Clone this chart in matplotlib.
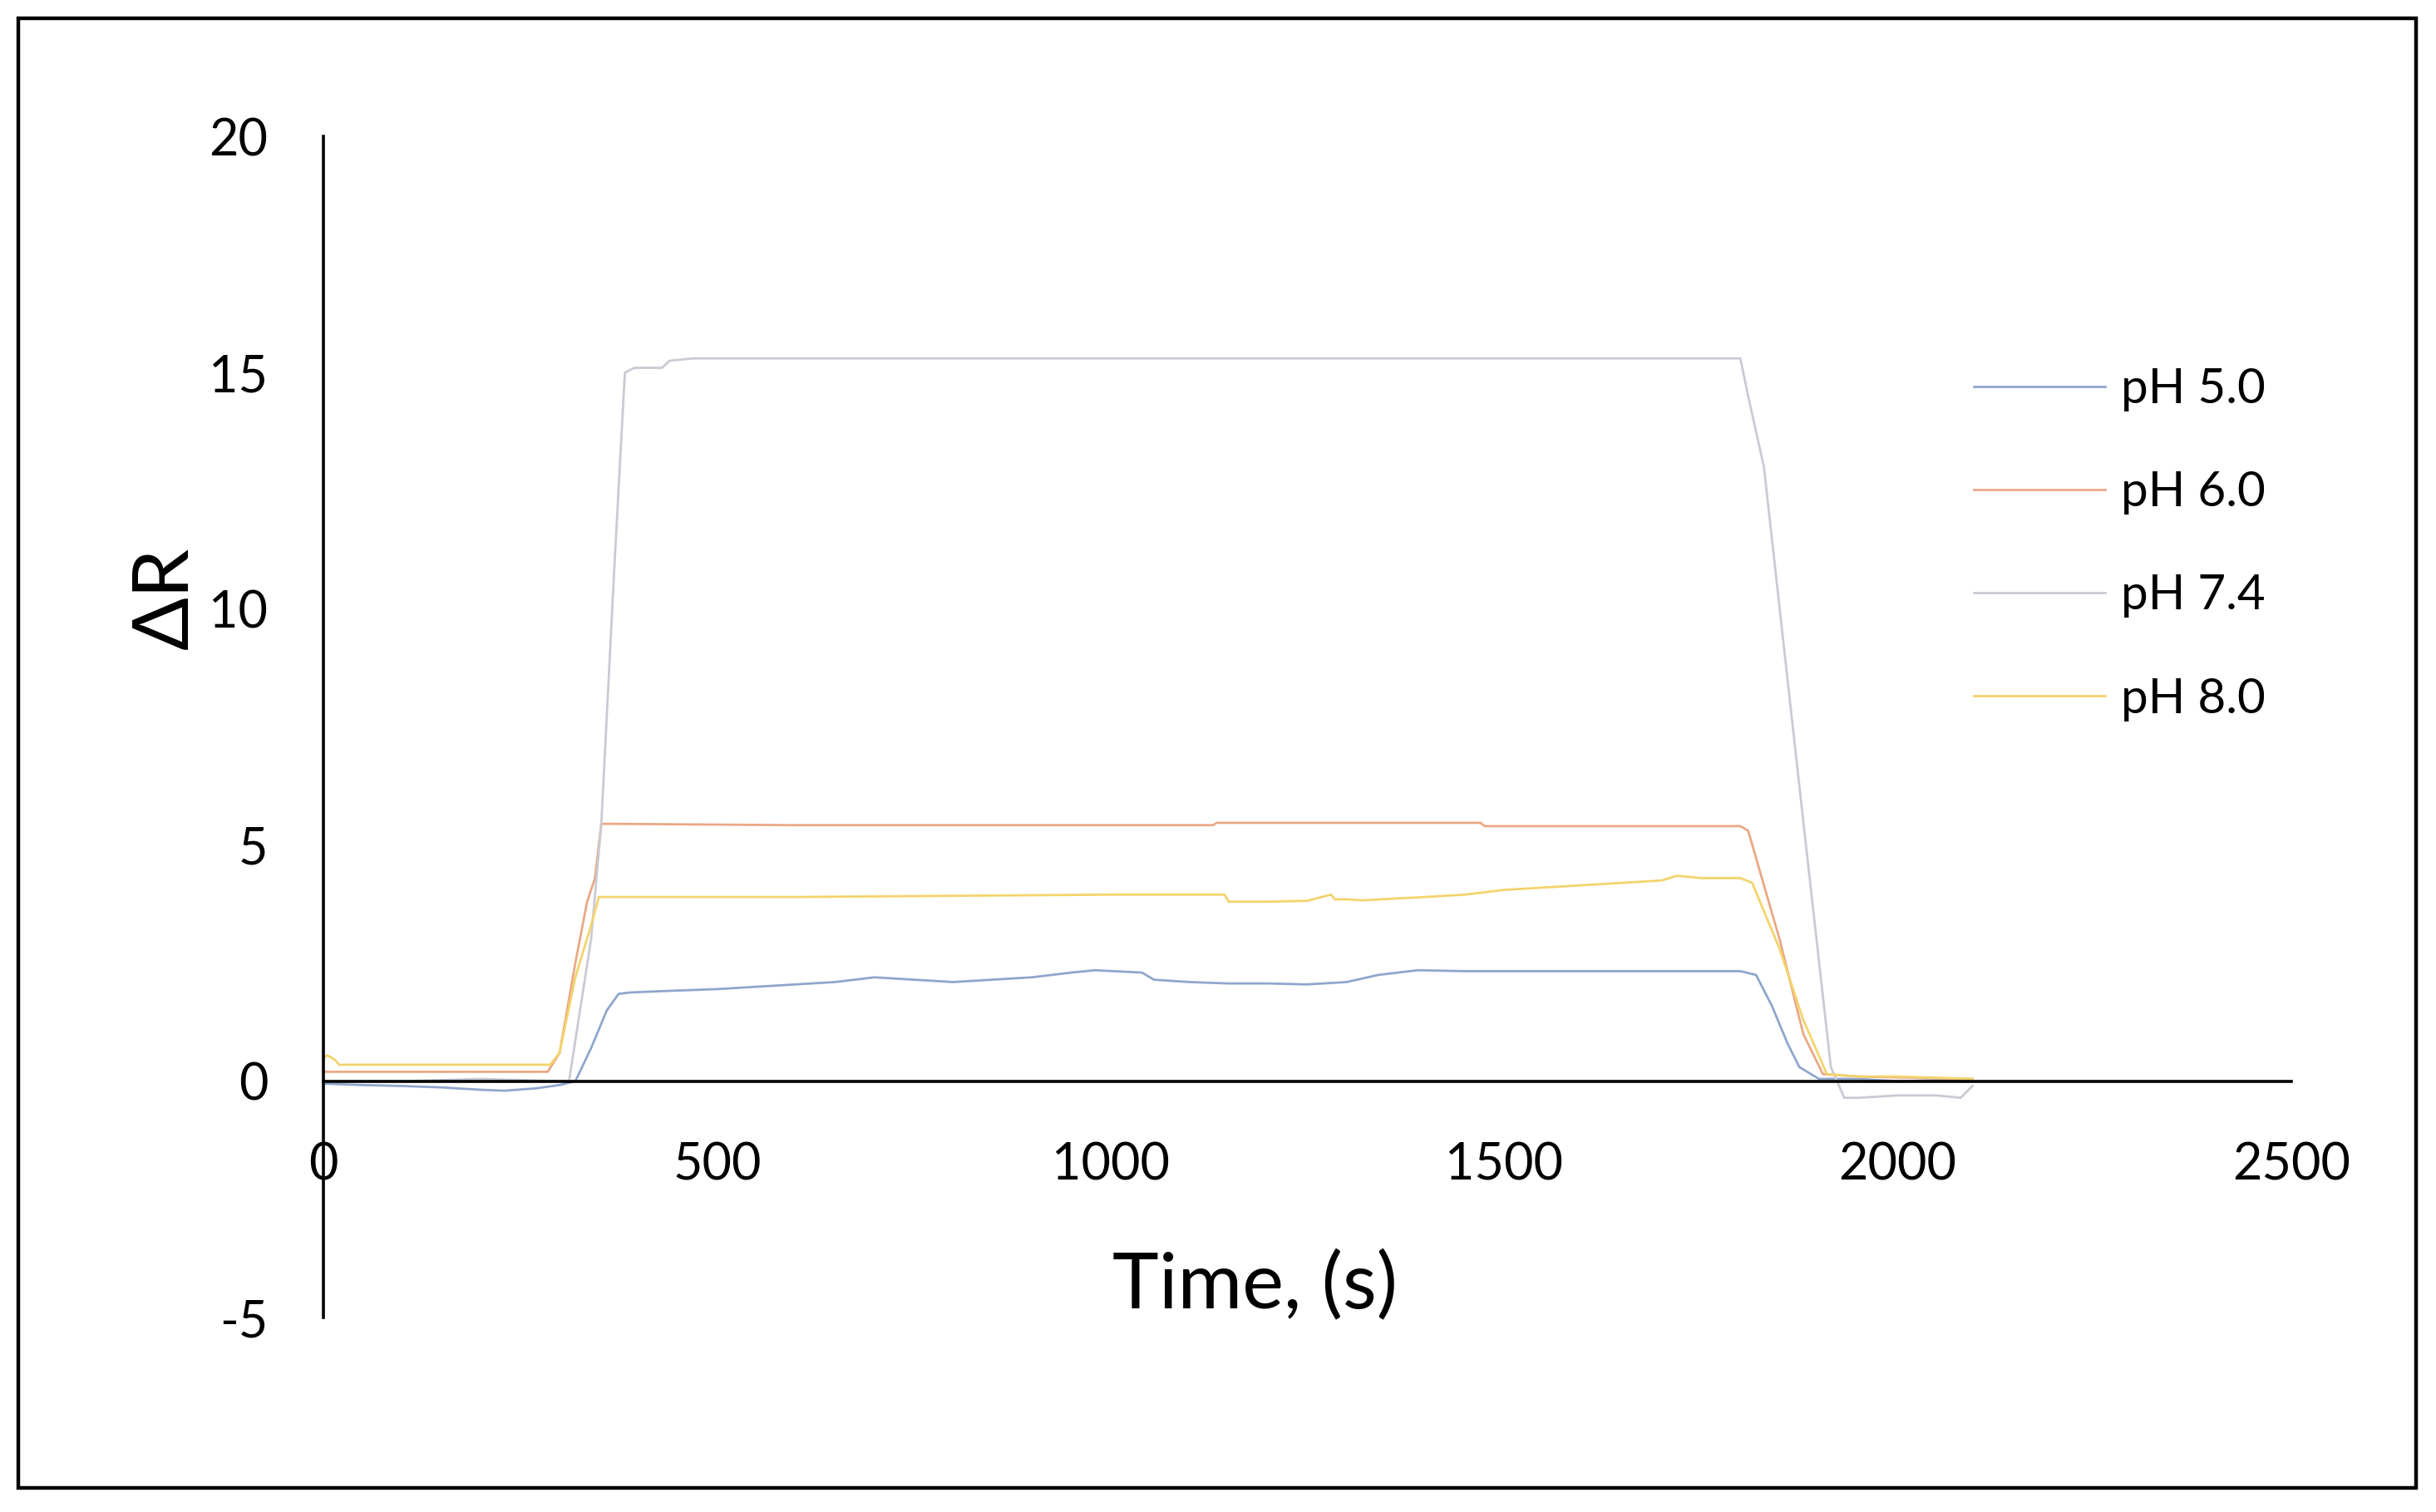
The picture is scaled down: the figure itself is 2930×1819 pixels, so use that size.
import numpy as np
import matplotlib
matplotlib.use('Agg')
import matplotlib.pyplot as plt
from matplotlib.patches import Rectangle

plt.rcParams['font.family'] = ['Lato', 'DejaVu Sans']
plt.rcParams['axes.unicode_minus'] = False

########################################################
# series (time in s, delta R)
labels = ['pH 5.0', 'pH 6.0', 'pH 7.4', 'pH 8.0']

t_ph50 = [0, 50, 100, 150, 200, 230, 270, 300, 320, 340, 360, 375, 390, 450, 500, 550,
          600, 650, 700, 750, 800, 850, 900, 950, 980, 1040, 1055, 1100, 1150, 1200,
          1250, 1300, 1340, 1390, 1450, 1600, 1800, 1820, 1840, 1860, 1875, 1900, 1950,
          2000, 2050, 2095]
r_ph50 = [-0.05, -0.08, -0.1, -0.13, -0.18, -0.2, -0.15, -0.08, 0.0, 0.7, 1.5, 1.85,
          1.88, 1.92, 1.95, 2.0, 2.05, 2.1, 2.2, 2.15, 2.1, 2.15, 2.2, 2.3, 2.35, 2.3,
          2.15, 2.1, 2.07, 2.07, 2.05, 2.1, 2.25, 2.35, 2.33, 2.33, 2.33, 2.25, 1.6,
          0.8, 0.3, 0.05, 0.05, 0.0, 0.02, 0.0]

t_ph60 = [0, 10, 285, 300, 320, 335, 345, 353, 600, 1130, 1135, 1470, 1475, 1800, 1810,
          1850, 1880, 1905, 1950, 2000, 2095]
r_ph60 = [0.2, 0.2, 0.2, 0.6, 2.5, 3.8, 4.3, 5.45, 5.42, 5.42, 5.47, 5.47, 5.4, 5.4,
          5.3, 3.0, 1.0, 0.15, 0.1, 0.08, 0.05]

t_ph74 = [0, 100, 200, 300, 312, 340, 353, 370, 383, 395, 430, 440, 470, 1000, 1500,
          1800, 1810, 1830, 1850, 1880, 1915, 1932, 1950, 2000, 2050, 2080, 2095]
r_ph74 = [0.0, 0.0, 0.05, 0.0, 0.0, 3.0, 5.45, 11.0, 15.0, 15.1, 15.1, 15.25, 15.3,
          15.3, 15.3, 15.3, 14.5, 13.0, 10.0, 5.5, 0.3, -0.35, -0.35, -0.3, -0.3,
          -0.35, -0.1]

t_ph80 = [0, 5, 15, 20, 288, 300, 320, 340, 350, 600, 1000, 1145, 1150, 1200, 1250,
          1280, 1285, 1300, 1320, 1400, 1450, 1500, 1550, 1600, 1650, 1700, 1720, 1750,
          1800, 1815, 1850, 1880, 1910, 1950, 2000, 2095]
r_ph80 = [0.5, 0.55, 0.45, 0.35, 0.35, 0.6, 2.2, 3.3, 3.9, 3.9, 3.95, 3.95, 3.8, 3.8,
          3.82, 3.95, 3.85, 3.85, 3.83, 3.9, 3.95, 4.05, 4.1, 4.15, 4.2, 4.25, 4.35,
          4.3, 4.3, 4.2, 2.8, 1.3, 0.15, 0.1, 0.1, 0.05]

colors = ['#8fa7cc', '#eaa886', '#cacad4', '#f3d46c']
x_ticks = [0, 500, 1000, 1500, 2000, 2500]
y_ticks = [-5, 0, 5, 10, 15, 20]

########################################################
fig = plt.figure(figsize=(14.65, 9.095), dpi=200)
ax = fig.add_axes([389 / 2930, 1 - 1585 / 1819, (2756 - 389) / 2930, (1585 - 164) / 1819])

series = [(t_ph50, r_ph50), (t_ph60, r_ph60), (t_ph74, r_ph74), (t_ph80, r_ph80)]
for (t, r), lab, c in zip(series, labels, colors):
    ax.plot(t, r, color=c, lw=1.0, label=lab)

ax.set_xlim(0, 2500)
ax.set_ylim(-5, 20)
ax.set_xticks(x_ticks)
ax.set_yticks(y_ticks)
ax.spines['top'].set_visible(False)
ax.spines['right'].set_visible(False)
ax.spines['bottom'].set_position(('data', 0))
ax.spines['left'].set_position(('data', 0))
ax.spines['bottom'].set_linewidth(1.3)
ax.spines['left'].set_linewidth(1.3)
ax.tick_params(axis='both', length=0, labelsize=22)
ax.tick_params(axis='y', pad=24)
ax.tick_params(axis='x', pad=26)

fig.text(1510 / 2930, 1 - 1547 / 1819, 'Time, (s)', fontsize=34, ha='center', va='center')
fig.text(200 / 2930, 1 - 719 / 1819, '\u0394R', fontsize=34, ha='center', va='center',
         rotation=90)

leg = ax.legend(loc='upper left', bbox_to_anchor=(2374 / 2930, 1 - 442 / 1819),
                bbox_transform=fig.transFigure, frameon=False, fontsize=21,
                handlelength=2.7, handletextpad=0.33, labelspacing=1.22,
                borderpad=0, borderaxespad=0)
for h in leg.get_lines():
    h.set_linewidth(1.0)

# outer frame round the whole picture
fig.patches.append(Rectangle((22 / 2930, 1 - 1790 / 1819), (2906 - 22) / 2930,
                             (1790 - 22) / 1819, transform=fig.transFigure,
                             fill=False, edgecolor='black', lw=1.6))

fig.savefig('out.png', dpi=200)
